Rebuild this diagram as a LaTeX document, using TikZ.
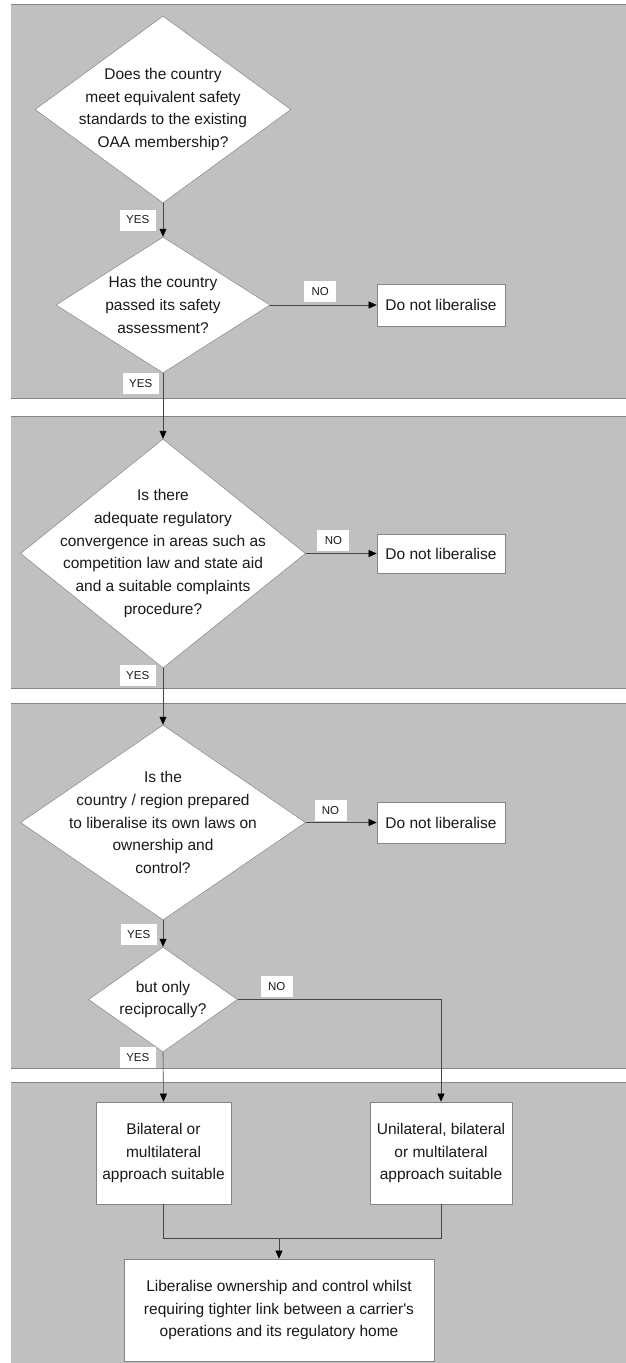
\documentclass[tikz,border=0pt]{standalone}
\usepackage{fontspec}
\setmainfont{Liberation Sans}
\usetikzlibrary{shapes.geometric}
\usetikzlibrary{arrows.meta}

\definecolor{panelgray}{HTML}{C0C0C0}
\definecolor{rimgray}{HTML}{858585}
\definecolor{wiregray}{HTML}{454545}

\tikzset{
  panelrim/.style={draw=rimgray, line width=0.9pt},
  decision/.style={diamond, draw=rimgray, fill=white, inner sep=0pt, line width=0.5pt},
  qtext/.style={align=center, inner sep=0pt, text=black!90,
                font=\fontsize{15.5}{22.7}\selectfont},
  outcome/.style={rectangle, draw=rimgray, fill=white, inner sep=0pt, line width=0.7pt,
                  align=center, text=black!90, font=\fontsize{15.5}{22.7}\selectfont},
  answer/.style={fill=white, inner sep=0pt, minimum height=21, text=black!90,
                 font=\fontsize{11.5}{13}\selectfont},
  yes/.style={answer, minimum width=36},
  no/.style={answer, minimum width=32},
  wire/.style={draw=wiregray, line width=0.6pt},
  flow/.style={wire, -{Triangle[length=8pt, width=7pt, color=black]}}
}

\begin{document}
\begin{tikzpicture}[x=1pt, y=-1pt]
  \useasboundingbox[fill=white] (0,0) rectangle (626,1363);

  % grey bands
  \foreach \top/\bot in {4/398, 416/688, 703/1068, 1082/1368} {
    \fill[panelgray] (11,\top) rectangle (626,\bot);
    \draw[panelrim] (11,\top) -- (626,\top);
    \draw[panelrim] (11,\bot) -- (626,\bot);
  }

  % questions
  \node[decision, minimum width=256, minimum height=187] (safety) at (163,109.5) {};
  \node[qtext] (safety-q) at (safety) {Does the country\\meet equivalent safety\\standards to the existing\\OAA membership?};

  \node[decision, minimum width=214, minimum height=136] (assess) at (163,305) {};
  \node[qtext] (assess-q) at (assess) {Has the country\\passed its safety\\assessment?};

  \node[decision, minimum width=285, minimum height=229] (converge) at (163,553.5) {};
  \node[qtext] (converge-q) at (converge) {Is there\\adequate regulatory\\convergence in areas such as\\competition law and state aid\\and a suitable complaints\\procedure?};

  \node[decision, minimum width=285, minimum height=195] (ownlaws) at (163,822.5) {};
  \node[qtext] (ownlaws-q) at (ownlaws) {Is the\\country / region prepared\\to liberalise its own laws on\\ownership and\\control?};

  \node[decision, minimum width=149, minimum height=105] (recip) at (163,999.5) {};
  \node[qtext] (recip-q) at (recip) {but only\\reciprocally?};

  % outcomes
  \node[outcome, minimum width=128, minimum height=42] (stop1) at (441,305) {Do not liberalise};
  \node[outcome, minimum width=128, minimum height=39] (stop2) at (441,553.5) {Do not liberalise};
  \node[outcome, minimum width=128, minimum height=41] (stop3) at (441,822.5) {Do not liberalise};

  \node[outcome, minimum width=135, minimum height=102] (bilat) at (163.5,1153) {Bilateral or\\multilateral\\approach suitable};
  \node[outcome, minimum width=142, minimum height=102] (unilat) at (441,1153) {Unilateral, bilateral\\or multilateral\\approach suitable};
  \node[outcome, minimum width=310, minimum height=102] (final) at (279,1310) {Liberalise ownership and control whilst\\requiring tighter link between a carrier\textquotesingle s\\operations and its regulatory home};

  \coordinate (join) at (279,1238);

  % connectors
  \draw[flow] (safety.south) -- node[yes, left=7pt] {YES} (assess.north);
  \draw[flow] (assess.east) -- node[no, pos=0.47, above=3pt] {NO} (stop1.west);
  \draw[flow] (assess.south) -- node[yes, pos=0.15, left=4pt] {YES} (converge.north);
  \draw[flow] (converge.east) -- node[no, pos=0.39, above=2.5pt] {NO} (stop2.west);
  \draw[flow] (converge.south) -- node[yes, pos=0.13, left=7pt] {YES} (ownlaws.north);
  \draw[flow] (ownlaws.east) -- node[no, pos=0.35, above=1.5pt] {NO} (stop3.west);
  \draw[flow] (ownlaws.south) -- node[yes, pos=0.55, left=6pt] {YES} (recip.north);
  \draw[flow] (recip.east) -| node[no, pos=0.096, above=2.5pt] {NO} (unilat.north);
  \draw[flow] (recip.south) -- node[yes, pos=0.11, left=7pt] {YES} (bilat.north);
  \draw[wire] (bilat.south) |- (join) -| (unilat.south);
  \draw[flow] (join) -- (final.north);
\end{tikzpicture}
\end{document}
